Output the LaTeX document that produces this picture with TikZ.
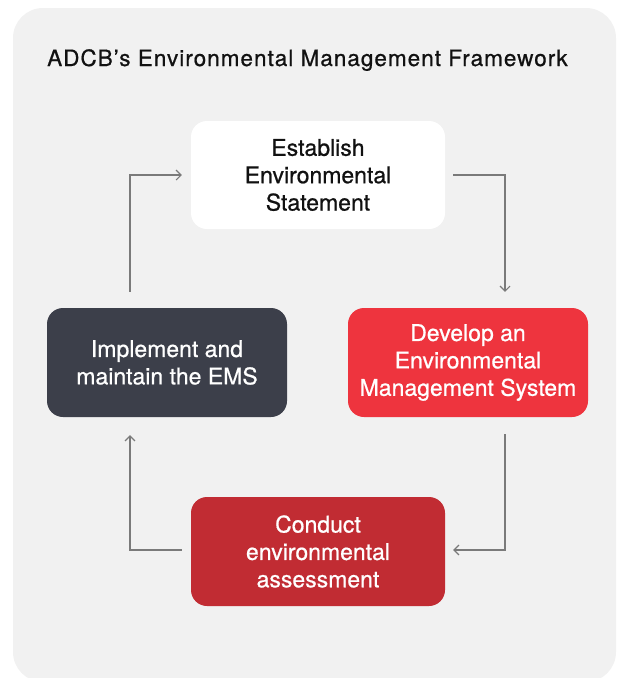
\documentclass[tikz,border=0pt]{standalone}
\usepackage{fontspec}
\setmainfont{TeX Gyre Heros}[FakeBold=0.7]
\newfontfamily\headfont{TeX Gyre Heros}[FakeBold=0.7, LetterSpace=4.5]
\usetikzlibrary{arrows.meta}

\definecolor{panelgray}{HTML}{F1F1F1}
\definecolor{stepred}{HTML}{EE343E}
\definecolor{stepdarkred}{HTML}{C12C33}
\definecolor{stepslate}{HTML}{3C3F4A}
\definecolor{flowgray}{HTML}{7A7A7A}
\definecolor{inktext}{HTML}{111111}

\begin{document}
\begin{tikzpicture}[
  x=1pt, y=-1pt,
  stagebox/.style={rounded corners=16pt, minimum width=254pt, minimum height=108pt,
    align=center, inner sep=0pt, font=\fontsize{23}{27.4}\selectfont},
  sidebox/.style={stagebox, minimum width=240pt, minimum height=109pt},
  flow/.style={draw=flowgray, line width=1.1pt,
    -{Straight Barb[length=5pt,width=10pt,line width=1.1pt]}}
]
\useasboundingbox (0,0) rectangle (617,678);
% background panel, running off the right and bottom edges
\begin{scope}
  \clip (0,0) rectangle (617,678);
  \fill[panelgray, rounded corners=30pt] (13,8) rectangle (616,682);
\end{scope}

% heading
\node[anchor=base west, inner sep=0pt, text=inktext,
      font=\headfont\fontsize{22.5}{27}\selectfont] (title) at (47,66)
  {ADCB’s Environmental Management Framework};

% the four stages of the cycle
\node[stagebox, fill=white, text=inktext] (est) at (318,175)
  {Establish\\Environmental\\Statement};
\node[sidebox, fill=stepred, text=white] (dev) at (468,362.5)
  {Develop an\\Environmental\\Management System};
\node[stagebox, fill=stepdarkred, text=white, minimum height=109pt] (con) at (318,551.5)
  {Conduct\\environmental\\assessment};
\node[sidebox, fill=stepslate, text=white] (imp) at (167,362.5)
  {Implement and\\maintain the EMS};

% bends of the connectors
\coordinate (c1) at (505,175);
\coordinate (c2) at (505,550);
\coordinate (c3) at (130,550);
\coordinate (c4) at (130,175);

% connectors
\draw[flow] ([xshift=8pt]est.east |- c1) -- (c1) -- ([yshift=16pt]dev.north -| c1);
\draw[flow] ([yshift=-17pt]dev.south -| c2) -- (c2) -- ([xshift=8pt]con.east |- c2);
\draw[flow] ([xshift=-9pt]con.west |- c3) -- (c3) -- ([yshift=-18pt]imp.south -| c3);
\draw[flow] ([yshift=16pt]imp.north -| c4) -- (c4) -- ([xshift=-9pt]est.west |- c4);
\end{tikzpicture}
\end{document}
